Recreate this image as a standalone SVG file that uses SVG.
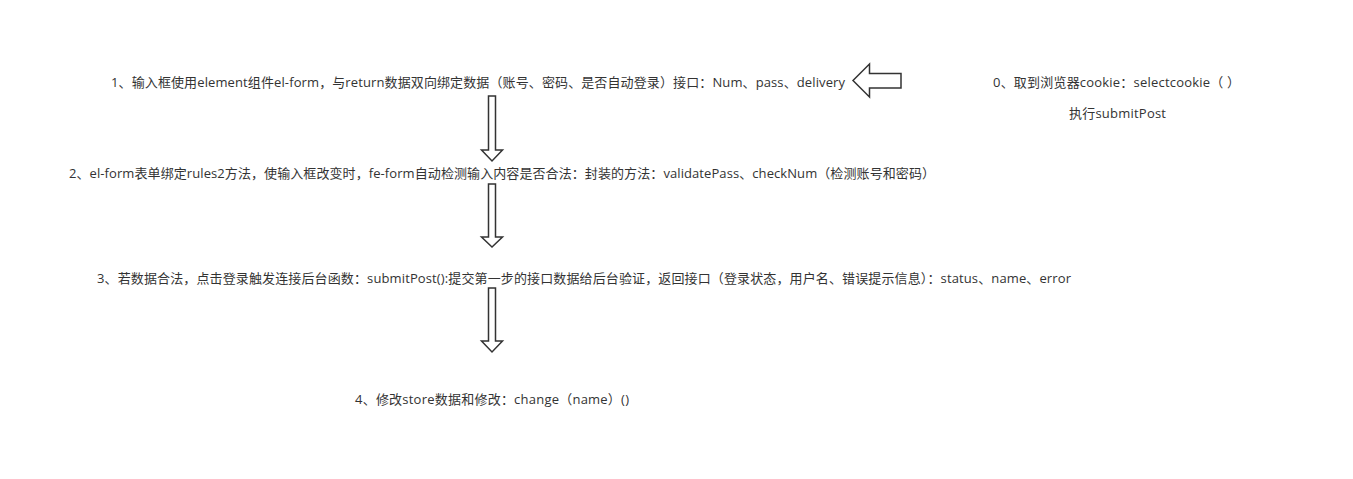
<svg xmlns="http://www.w3.org/2000/svg" width="1353" height="479" viewBox="0 0 1353 479">
<style>
.t{font-family:"Open Sans","Noto Sans CJK SC",sans-serif;font-size:13px;fill:#333;text-anchor:middle}
.a{fill:#fff;stroke:#333;stroke-width:1.5;stroke-linejoin:miter}
</style>
<rect width="1353" height="479" fill="#fff"/>
<g id="connectors">
<path class="a" d="M488.5,96 H495.5 V150 H502.5 L492,161 L481.5,150 H488.5 Z"/>
<path class="a" d="M488.5,184 H495.5 V237 H502.5 L492,247 L481.5,237 H488.5 Z"/>
<path class="a" d="M488.5,288 H495.5 V341 H502.5 L492,352 L481.5,341 H488.5 Z"/>
<path class="a" d="M901,73.5 V88 H869.5 V97 L853,80.5 L869.5,64 V73.5 Z"/>
</g>
<g id="node0"><text class="t" x="1116.5" y="86.5" textLength="247">0、取到浏览器cookie：selectcookie（ ）</text></g>
<g id="node0b"><text class="t" x="1117.5" y="117.5" textLength="97">执行submitPost</text></g>
<g id="node1"><text class="t" x="478" y="87" textLength="734">1、输入框使用element组件el-form，与return数据双向绑定数据（账号、密码、是否自动登录）接口：Num、pass、delivery</text></g>
<g id="node2"><text class="t" x="502" y="178" textLength="866">2、el-form表单绑定rules2方法，使输入框改变时，fe-form自动检测输入内容是否合法：封装的方法：validatePass、checkNum（检测账号和密码）</text></g>
<g id="node3"><text class="t" x="584" y="283" textLength="974">3、若数据合法，点击登录触发连接后台函数：submitPost():提交第一步的接口数据给后台验证，返回接口（登录状态，用户名、错误提示信息）：status、name、error</text></g>
<g id="node4"><text class="t" x="492" y="404" textLength="274">4、修改store数据和修改：change（name）()</text></g>
</svg>
